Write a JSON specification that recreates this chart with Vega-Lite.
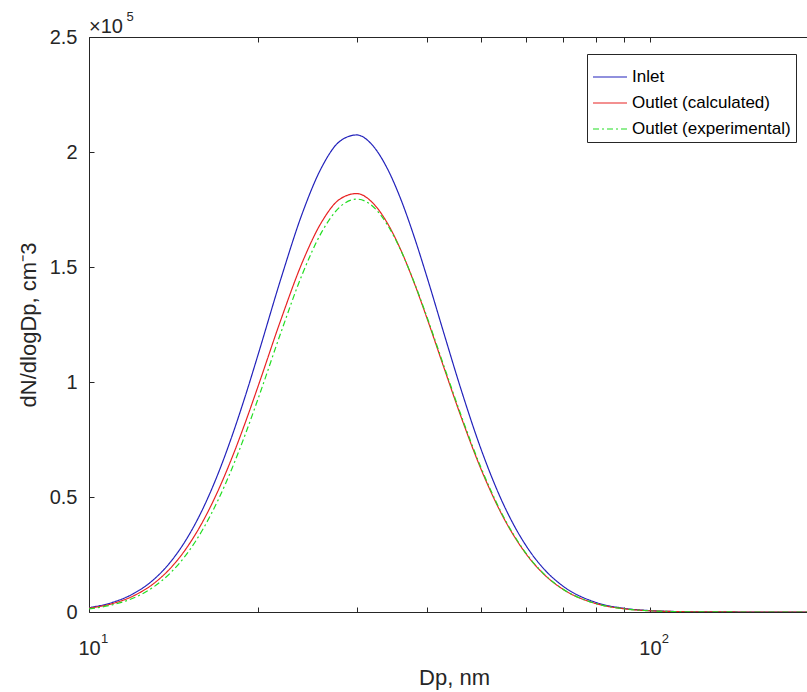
{
  "$schema": "https://vega.github.io/schema/vega-lite/v6.json",
  "width": 718,
  "height": 575,
  "autosize": {"type": "none"},
  "padding": {"left": 89, "top": 37, "right": 0, "bottom": 80},
  "background": "white",
  "title": {"text": "×10", "anchor": "start", "frame": "group", "fontSize": 20, "fontWeight": "normal", "font": "Liberation Sans", "color": "#262626", "offset": 1, "baseline": "bottom", "dy": 48},
  "config": {
    "view": {"stroke": null},
    "font": "Liberation Sans",
    "axis": {"domainColor": "#262626", "tickColor": "#262626", "labelColor": "#262626", "titleColor": "#262626", "grid": false, "labelFont": "Liberation Sans", "titleFont": "Liberation Sans", "labelFontSize": 20, "titleFontSize": 22, "titleFontWeight": "normal", "domainWidth": 1, "tickWidth": 1, "labelFlush": false},
    "legend": {"orient": "none", "legendX": 498, "legendY": 17, "padding": 5, "strokeColor": "#262626", "fillColor": "white", "labelFontSize": 17, "labelFont": "Liberation Sans", "labelColor": "#000000", "symbolType": "stroke", "symbolSize": 1156, "symbolStrokeWidth": 1.2, "labelOffset": 4, "labelLimit": 400, "rowPadding": 0}
  },
  "data": {"values": [
    {"series": "Inlet", "Dp": 10, "dN": 1886},
    {"series": "Inlet", "Dp": 11, "dN": 4144},
    {"series": "Inlet", "Dp": 12, "dN": 7981},
    {"series": "Inlet", "Dp": 13, "dN": 13828},
    {"series": "Inlet", "Dp": 14, "dN": 22016},
    {"series": "Inlet", "Dp": 15, "dN": 32598},
    {"series": "Inlet", "Dp": 16, "dN": 45484},
    {"series": "Inlet", "Dp": 17, "dN": 60362},
    {"series": "Inlet", "Dp": 18, "dN": 76754},
    {"series": "Inlet", "Dp": 19, "dN": 94018},
    {"series": "Inlet", "Dp": 20, "dN": 111594},
    {"series": "Inlet", "Dp": 22, "dN": 145167},
    {"series": "Inlet", "Dp": 24, "dN": 173325},
    {"series": "Inlet", "Dp": 26, "dN": 193432},
    {"series": "Inlet", "Dp": 28, "dN": 204657},
    {"series": "Inlet", "Dp": 30, "dN": 207417},
    {"series": "Inlet", "Dp": 32, "dN": 202977},
    {"series": "Inlet", "Dp": 34, "dN": 192954},
    {"series": "Inlet", "Dp": 36, "dN": 179156},
    {"series": "Inlet", "Dp": 38, "dN": 163054},
    {"series": "Inlet", "Dp": 40, "dN": 145956},
    {"series": "Inlet", "Dp": 43, "dN": 120495},
    {"series": "Inlet", "Dp": 46, "dN": 97110},
    {"series": "Inlet", "Dp": 50, "dN": 70716},
    {"series": "Inlet", "Dp": 55, "dN": 46003},
    {"series": "Inlet", "Dp": 60, "dN": 29175},
    {"series": "Inlet", "Dp": 65, "dN": 18187},
    {"series": "Inlet", "Dp": 70, "dN": 11228},
    {"series": "Inlet", "Dp": 80, "dN": 4218},
    {"series": "Inlet", "Dp": 90, "dN": 1581},
    {"series": "Inlet", "Dp": 100, "dN": 599},
    {"series": "Inlet", "Dp": 110, "dN": 231},
    {"series": "Inlet", "Dp": 120, "dN": 91},
    {"series": "Inlet", "Dp": 140, "dN": 15},
    {"series": "Inlet", "Dp": 160, "dN": 2},
    {"series": "Inlet", "Dp": 200, "dN": 0},
    {"series": "Outlet (calculated)", "Dp": 10, "dN": 1654},
    {"series": "Outlet (calculated)", "Dp": 11, "dN": 3635},
    {"series": "Outlet (calculated)", "Dp": 12, "dN": 7000},
    {"series": "Outlet (calculated)", "Dp": 13, "dN": 12129},
    {"series": "Outlet (calculated)", "Dp": 14, "dN": 19311},
    {"series": "Outlet (calculated)", "Dp": 15, "dN": 28592},
    {"series": "Outlet (calculated)", "Dp": 16, "dN": 39894},
    {"series": "Outlet (calculated)", "Dp": 17, "dN": 52944},
    {"series": "Outlet (calculated)", "Dp": 18, "dN": 67322},
    {"series": "Outlet (calculated)", "Dp": 19, "dN": 82465},
    {"series": "Outlet (calculated)", "Dp": 20, "dN": 97880},
    {"series": "Outlet (calculated)", "Dp": 22, "dN": 127328},
    {"series": "Outlet (calculated)", "Dp": 24, "dN": 152025},
    {"series": "Outlet (calculated)", "Dp": 26, "dN": 169661},
    {"series": "Outlet (calculated)", "Dp": 28, "dN": 179507},
    {"series": "Outlet (calculated)", "Dp": 30, "dN": 181928},
    {"series": "Outlet (calculated)", "Dp": 32, "dN": 178034},
    {"series": "Outlet (calculated)", "Dp": 34, "dN": 169242},
    {"series": "Outlet (calculated)", "Dp": 36, "dN": 157140},
    {"series": "Outlet (calculated)", "Dp": 38, "dN": 143016},
    {"series": "Outlet (calculated)", "Dp": 40, "dN": 128019},
    {"series": "Outlet (calculated)", "Dp": 43, "dN": 105687},
    {"series": "Outlet (calculated)", "Dp": 46, "dN": 85177},
    {"series": "Outlet (calculated)", "Dp": 50, "dN": 62026},
    {"series": "Outlet (calculated)", "Dp": 55, "dN": 40350},
    {"series": "Outlet (calculated)", "Dp": 60, "dN": 25590},
    {"series": "Outlet (calculated)", "Dp": 65, "dN": 15952},
    {"series": "Outlet (calculated)", "Dp": 70, "dN": 9848},
    {"series": "Outlet (calculated)", "Dp": 80, "dN": 3700},
    {"series": "Outlet (calculated)", "Dp": 90, "dN": 1387},
    {"series": "Outlet (calculated)", "Dp": 100, "dN": 525},
    {"series": "Outlet (calculated)", "Dp": 110, "dN": 203},
    {"series": "Outlet (calculated)", "Dp": 120, "dN": 80},
    {"series": "Outlet (calculated)", "Dp": 140, "dN": 13},
    {"series": "Outlet (calculated)", "Dp": 160, "dN": 2},
    {"series": "Outlet (calculated)", "Dp": 200, "dN": 0},
    {"series": "Outlet (experimental)", "Dp": 10, "dN": 1377},
    {"series": "Outlet (experimental)", "Dp": 11, "dN": 3091},
    {"series": "Outlet (experimental)", "Dp": 12, "dN": 6062},
    {"series": "Outlet (experimental)", "Dp": 13, "dN": 10673},
    {"series": "Outlet (experimental)", "Dp": 14, "dN": 17228},
    {"series": "Outlet (experimental)", "Dp": 15, "dN": 25830},
    {"series": "Outlet (experimental)", "Dp": 16, "dN": 36439},
    {"series": "Outlet (experimental)", "Dp": 17, "dN": 48842},
    {"series": "Outlet (experimental)", "Dp": 18, "dN": 62646},
    {"series": "Outlet (experimental)", "Dp": 19, "dN": 77329},
    {"series": "Outlet (experimental)", "Dp": 20, "dN": 92460},
    {"series": "Outlet (experimental)", "Dp": 22, "dN": 121737},
    {"series": "Outlet (experimental)", "Dp": 24, "dN": 146849},
    {"series": "Outlet (experimental)", "Dp": 26, "dN": 165266},
    {"series": "Outlet (experimental)", "Dp": 28, "dN": 176090},
    {"series": "Outlet (experimental)", "Dp": 30, "dN": 179500},
    {"series": "Outlet (experimental)", "Dp": 32, "dN": 176520},
    {"series": "Outlet (experimental)", "Dp": 34, "dN": 168497},
    {"series": "Outlet (experimental)", "Dp": 36, "dN": 156973},
    {"series": "Outlet (experimental)", "Dp": 38, "dN": 143259},
    {"series": "Outlet (experimental)", "Dp": 40, "dN": 128540},
    {"series": "Outlet (experimental)", "Dp": 43, "dN": 106390},
    {"series": "Outlet (experimental)", "Dp": 46, "dN": 85891},
    {"series": "Outlet (experimental)", "Dp": 50, "dN": 62646},
    {"series": "Outlet (experimental)", "Dp": 55, "dN": 40764},
    {"series": "Outlet (experimental)", "Dp": 60, "dN": 25830},
    {"series": "Outlet (experimental)", "Dp": 65, "dN": 16085},
    {"series": "Outlet (experimental)", "Dp": 70, "dN": 9905},
    {"series": "Outlet (experimental)", "Dp": 80, "dN": 3700},
    {"series": "Outlet (experimental)", "Dp": 90, "dN": 1377},
    {"series": "Outlet (experimental)", "Dp": 100, "dN": 517},
    {"series": "Outlet (experimental)", "Dp": 110, "dN": 198},
    {"series": "Outlet (experimental)", "Dp": 120, "dN": 77},
    {"series": "Outlet (experimental)", "Dp": 140, "dN": 12},
    {"series": "Outlet (experimental)", "Dp": 160, "dN": 2},
    {"series": "Outlet (experimental)", "Dp": 200, "dN": 0}
  ]},
  "layer": [
    {
      "mark": {"type": "line", "interpolate": "monotone", "clip": true, "strokeWidth": 1.2},
      "encoding": {
        "x": {"field": "Dp", "type": "quantitative", "scale": {"type": "log", "domain": [10, 190.5], "nice": false},
          "axis": {"orient": "bottom", "values": [10, 20, 30, 40, 50, 60, 70, 80, 90, 100], "tickSize": -5, "labelPadding": 31.5, "labelExpr": "(datum.value == 10 || datum.value == 100) ? '10' : ''", "title": "Dp, nm", "titlePadding": 9, "titleX": 365}},
        "y": {"field": "dN", "type": "quantitative", "scale": {"domain": [0, 250000], "nice": false},
          "axis": {"values": [0, 50000, 100000, 150000, 200000, 250000], "tickSize": -5, "labelPadding": 17, "labelExpr": "'' + datum.value / 100000", "title": "dN/dlogDp, cm⁻3", "titlePadding": 9}},
        "color": {"field": "series", "type": "nominal", "scale": {"domain": ["Inlet", "Outlet (calculated)", "Outlet (experimental)"], "range": ["#2222bb", "#e82222", "#22dd22"]}, "legend": {"title": null}},
        "strokeDash": {"field": "series", "type": "nominal", "scale": {"domain": ["Inlet", "Outlet (calculated)", "Outlet (experimental)"], "range": [[1, 0], [1, 0], [6, 3, 2, 3]]}, "legend": {"title": null}}
      }
    },
    {
      "mark": {"type": "line", "opacity": 0, "clip": true},
      "encoding": {
        "x": {"field": "Dp", "type": "quantitative", "axis": {"orient": "top", "values": [10, 20, 30, 40, 50, 60, 70, 80, 90, 100], "tickSize": -5, "labels": false, "title": "5", "titleFontSize": 13, "titleX": 37, "titleY": -17, "titleAlign": "left", "titleAnchor": "start", "titleBaseline": "alphabetic", "titleAngle": 0}},
        "y": {"field": "dN", "type": "quantitative"},
        "detail": {"field": "series", "type": "nominal"}
      }
    },
    {
      "mark": {"type": "line", "opacity": 0, "clip": true},
      "encoding": {
        "x": {"field": "Dp", "type": "quantitative", "axis": {"orient": "bottom", "values": [10, 100], "ticks": false, "domain": false, "labelFontSize": 13, "labelPadding": 20, "labelOffset": 15, "labelExpr": "datum.value == 10 ? '1' : '2'", "title": null}},
        "y": {"field": "dN", "type": "quantitative"},
        "detail": {"field": "series", "type": "nominal"}
      }
    }
  ],
  "resolve": {"axis": {"x": "independent"}}
}
